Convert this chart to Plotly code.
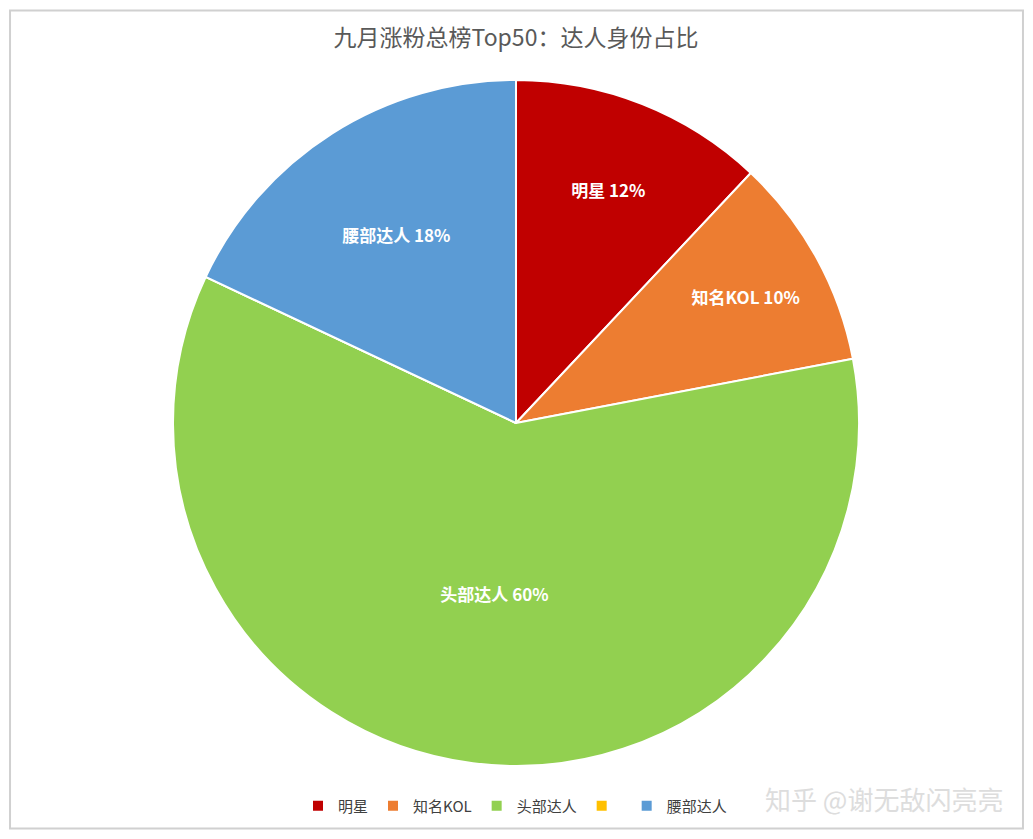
import plotly.graph_objects as go

# ---------------------------
# Data
# ---------------------------
labels = ["明星", "知名KOL", "头部达人", "\u200b", "腰部达人"]
values = [12, 10, 60, 0, 18]
slice_text = ["明星 12%", "知名KOL 10%", "头部达人 60%", "", "腰部达人 18%"]
colors = ["#C00000", "#ED7D31", "#92D050", "#FFC000", "#5B9BD5"]

# page body has an 8px margin, so the figure is drawn smaller and offset
OFF = 8
W, H = 1033 - 2 * OFF, 839 - 2 * OFF
cx, cy, r = 516 - OFF, 423 - OFF, 343


def px(x):
    return (x - OFF) / W


def py(y):
    return 1 - (y - OFF) / H


fig = go.Figure()
fig.add_trace(go.Pie(
    labels=labels,
    values=values,
    text=slice_text,
    texttemplate="<b>%{text}</b>",
    textposition="inside",
    insidetextorientation="horizontal",
    textfont=dict(color="white", size=17, family="Noto Sans CJK SC"),
    marker=dict(colors=colors, line=dict(color="white", width=2)),
    sort=False,
    direction="clockwise",
    rotation=0,
    domain=dict(x=[(cx - r) / W, (cx + r) / W], y=[1 - (cy + r) / H, 1 - (cy - r) / H]),
    hoverinfo="label+percent",
))

fig.update_layout(
    width=W, height=H,
    margin=dict(l=0, r=0, t=0, b=0),
    paper_bgcolor="white",
    font=dict(family="Noto Sans CJK SC", color="#404040"),
    title=dict(text="九月涨粉总榜Top50：达人身份占比", x=px(516), xanchor="center",
               y=py(38), yanchor="middle",
               font=dict(size=23, color="#595959")),
    legend=dict(orientation="h", x=px(515), xanchor="center", y=py(806), yanchor="middle",
                font=dict(size=15, color="#404040"), itemwidth=30, traceorder="normal"),
    shapes=[dict(type="rect", xref="paper", yref="paper", x0=0.002, x1=0.998, y0=0.003, y1=0.997,
                 line=dict(color="#D0D0D0", width=2))],
    annotations=[dict(text="知乎 @谢无敌闪亮亮", xref="paper", yref="paper",
                      x=px(1005), xanchor="right", y=py(798), yanchor="middle",
                      showarrow=False, font=dict(size=26, color="#DDDDDD"))],
)

fig.write_html("out.html")
